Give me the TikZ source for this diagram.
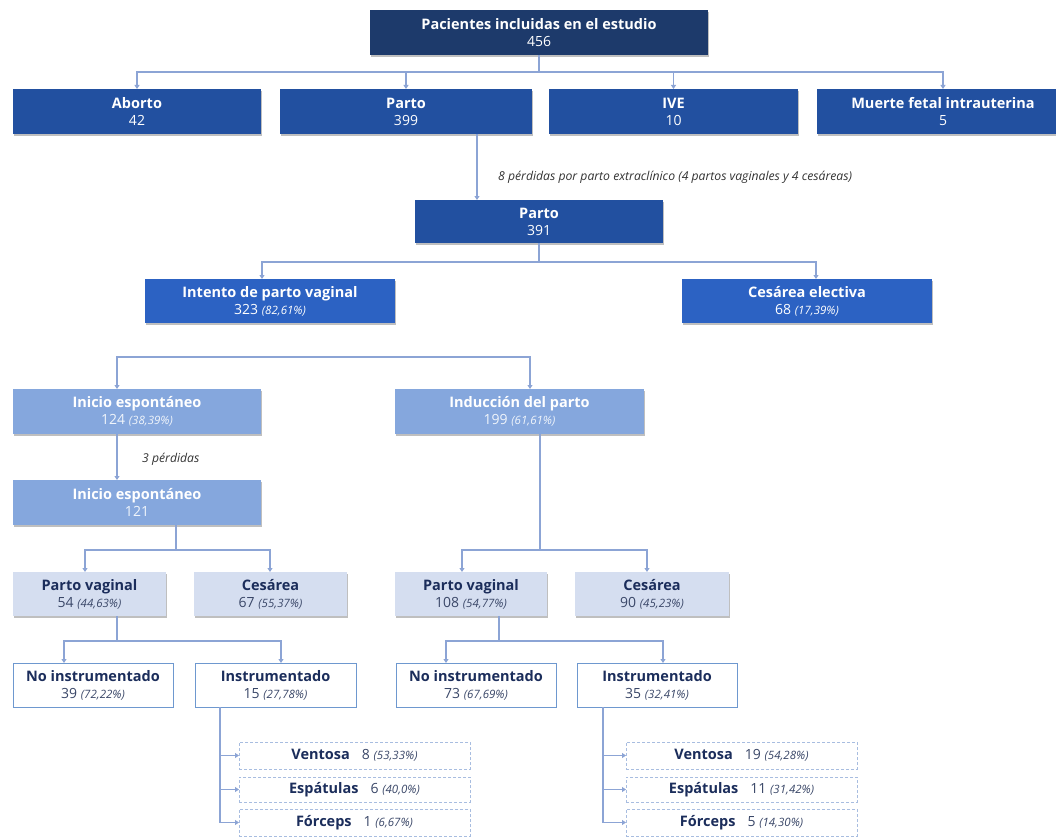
\documentclass[tikz,border=0pt]{standalone}
\usepackage{fontspec}
\setmainfont{Open Sans}
\usetikzlibrary{arrows.meta,calc,shadows}
\definecolor{c0}{HTML}{1D3A6B}
\definecolor{c1}{HTML}{2250A0}
\definecolor{c2}{HTML}{2C62C3}
\definecolor{c3}{HTML}{85A7DD}
\definecolor{c4}{HTML}{D5DEF0}
\definecolor{navy}{HTML}{1B2D5B}
\definecolor{slate}{HTML}{3A4768}
\definecolor{lnc}{HTML}{8CA4D5}
\definecolor{bdr}{HTML}{6E98CF}
\definecolor{dsh}{HTML}{A8BDE0}
\newcommand\nm[1]{{\fontsize{14}{17}\selectfont #1}}
\newcommand\pc[1]{{\fontsize{11.5}{14}\selectfont\itshape #1}}
\newcommand\mybox[7]{\node[#6, minimum width={#4pt-#2pt}, minimum height={#5pt-#3pt}] (#1) at ({(#2+#4)/2},{(#3+#5)/2}) {#7};}
\tikzset{
  bx/.style={rectangle, inner sep=0pt, outer sep=0pt, align=center, font=\fontsize{14.5}{17}\selectfont},
  sh/.style={drop shadow={shadow xshift=0.6pt, shadow yshift=-1.6pt, fill=black, opacity=0.25}},
  dz/.style={bx, sh, fill=c0, text=white},
  da/.style={bx, sh, fill=c1, text=white},
  db/.style={bx, sh, fill=c2, text=white},
  dc/.style={bx, sh, fill=c3, text=white},
  dd/.style={bx, sh, fill=c4, text=navy},
  de/.style={bx, fill=white, draw=bdr, line width=0.8pt, text=navy},
  df/.style={bx, fill=white, draw=dsh, dashed, dash pattern=on 3pt off 2pt, line width=0.7pt, text=navy},
  ln/.style={draw=lnc, line width=1.1pt},
  arr/.style={ln, -{Triangle[width=5pt,length=4pt]}},
  note/.style={font=\fontsize{12.2}{14}\selectfont\itshape, text=black!80, inner sep=0pt, anchor=west}
}
\begin{document}
\begin{tikzpicture}[x=1pt,y=-1pt]
\useasboundingbox (0,0) rectangle (1056,837);
\fill[white] (0,0) rectangle (1056,837);
\clip (0,0) rectangle (1056,837);

\mybox{top}{370}{10}{708}{55}{dz}{\textbf{Pacientes incluidas en el estudio}\\\nm{456}}
\mybox{aborto}{13}{89}{261}{134}{da}{\textbf{Aborto}\\\nm{42}}
\mybox{parto}{280}{89}{532}{134}{da}{\textbf{Parto}\\\nm{399}}
\mybox{ive}{549}{89}{798}{134}{da}{\textbf{IVE}\\\nm{10}}
\mybox{muerte}{817}{89}{1069}{134}{da}{\textbf{Muerte fetal intrauterina}\\\nm{5}}
\mybox{p391}{415}{200}{663}{243}{da}{\textbf{Parto}\\\nm{391}}
\mybox{intento}{145}{279}{395}{323}{db}{\textbf{Intento de parto vaginal}\\\nm{323} \pc{(82,61\%)}}
\mybox{cesel}{682}{279}{932}{323}{db}{\textbf{Cesárea electiva}\\\nm{68} \pc{(17,39\%)}}
\mybox{inicio}{13}{389}{261}{434}{dc}{\textbf{Inicio espontáneo}\\\color{white!88!c3}\nm{124} \pc{(38,39\%)}}
\mybox{induc}{395}{389}{644}{434}{dc}{\textbf{Inducción del parto}\\\color{white!88!c3}\nm{199} \pc{(61,61\%)}}
\mybox{inicio2}{13}{480}{261}{525}{dc}{\textbf{Inicio espontáneo}\\\color{white!88!c3}\nm{121}}
\mybox{pv1}{13}{572}{166}{616}{dd}{\textbf{Parto vaginal}\\\color{slate}\nm{54} \pc{(44,63\%)}}
\mybox{ces1}{194}{572}{347}{616}{dd}{\textbf{Cesárea}\\\color{slate}\nm{67} \pc{(55,37\%)}}
\mybox{pv2}{395}{572}{547}{616}{dd}{\textbf{Parto vaginal}\\\color{slate}\nm{108} \pc{(54,77\%)}}
\mybox{ces2}{575}{572}{729}{616}{dd}{\textbf{Cesárea}\\\color{slate}\nm{90} \pc{(45,23\%)}}
\mybox{ni1}{13}{663}{173}{707}{de}{\textbf{No instrumentado}\\\color{slate}\nm{39} \pc{(72,22\%)}}
\mybox{in1}{195}{663}{356}{707}{de}{\textbf{Instrumentado}\\\color{slate}\nm{15} \pc{(27,78\%)}}
\mybox{ni2}{396}{663}{556}{707}{de}{\textbf{No instrumentado}\\\color{slate}\nm{73} \pc{(67,69\%)}}
\mybox{in2}{577}{663}{737}{707}{de}{\textbf{Instrumentado}\\\color{slate}\nm{35} \pc{(32,41\%)}}
\mybox{v1}{239}{742}{470}{769}{df}{\textbf{Ventosa}\hspace{12pt}{\color{slate}\nm{8} \pc{(53,33\%)}}}
\mybox{e1}{239}{777}{470}{802}{df}{\textbf{Espátulas}\hspace{12pt}{\color{slate}\nm{6} \pc{(40,0\%)}}}
\mybox{f1}{239}{809}{470}{836}{df}{\textbf{Fórceps}\hspace{12pt}{\color{slate}\nm{1} \pc{(6,67\%)}}}
\mybox{v2}{626}{742}{857}{769}{df}{\textbf{Ventosa}\hspace{12pt}{\color{slate}\nm{19} \pc{(54,28\%)}}}
\mybox{e2}{626}{777}{857}{802}{df}{\textbf{Espátulas}\hspace{12pt}{\color{slate}\nm{11} \pc{(31,42\%)}}}
\mybox{f2}{626}{809}{857}{836}{df}{\textbf{Fórceps}\hspace{12pt}{\color{slate}\nm{5} \pc{(14,30\%)}}}

\node[note] (lab1) at (498,177) {8 pérdidas por parto extraclínico (4 partos vaginales y 4 cesáreas)};
\node[note] (lab2) at (142,459) {3 pérdidas};

% top level
\draw[ln] (top.south) -- ++(0,17) coordinate (h1);
\draw[arr] (h1) -| (aborto.north);
\draw[arr] (h1) -| (parto.north);
\draw[arr] (h1) -| (ive.north);
\draw[arr] (h1) -| (muerte.north);
% parto -> parto 391
\draw[arr] ($(parto.south)+(71,0)$) -- ($(p391.north)+(-62,0)$);
% parto 391 -> intento / cesarea electiva
\draw[ln] (p391.south) -- ++(0,19) coordinate (h2);
\draw[arr] (h2) -| ($(intento.north)+(-8,0)$);
\draw[arr] (h2) -| ($(cesel.north)+(9,0)$);
% inicio / induccion
\draw[ln, {Triangle[width=5pt,length=4pt]}-{Triangle[width=5pt,length=4pt]}] ($(inicio.north)+(-20,0)$) -- ++(0,-32) -| ($(induc.north)+(10.5,0)$);
\draw[arr] ($(inicio.south)+(-20,0)$) -- ($(inicio2.north)+(-20,0)$);
% inicio2 -> pv1 / ces1
\draw[ln] ($(inicio2.south)+(39,0)$) -- ++(0,25) coordinate (h4);
\draw[arr] (h4) -| ($(pv1.north)+(-4.5,0)$);
\draw[arr] (h4) -| ($(ces1.north)+(-0.5,0)$);
% induccion -> pv2 / ces2
\draw[ln] ($(induc.south)+(20.5,0)$) -- ++(0,116) coordinate (h5);
\draw[arr] (h5) -| ($(pv2.north)+(-9,0)$);
\draw[arr] (h5) -| ($(ces2.north)+(-5,0)$);
% pv1 -> ni1 / in1
\draw[ln] ($(pv1.south)+(27.5,0)$) -- ++(0,25) coordinate (h6);
\draw[arr] (h6) -| ($(ni1.north)+(-29,0)$);
\draw[arr] (h6) -| ($(in1.north)+(5.5,0)$);
% pv2 -> ni2 / in2
\draw[ln] ($(pv2.south)+(28,0)$) -- ++(0,25) coordinate (h7);
\draw[arr] (h7) -| ($(ni2.north)+(-30,0)$);
\draw[arr] (h7) -| ($(in2.north)+(6,0)$);
% instrumentado -> tipos
\draw[arr] ($(in1.south)+(-55.5,0)$) |- (v1.west);
\draw[arr] ($(in1.south)+(-55.5,0)$) |- (e1.west);
\draw[arr] ($(in1.south)+(-55.5,0)$) |- (f1.west);
\draw[arr] ($(in2.south)+(-54,0)$) |- (v2.west);
\draw[arr] ($(in2.south)+(-54,0)$) |- (e2.west);
\draw[arr] ($(in2.south)+(-54,0)$) |- (f2.west);
\end{tikzpicture}
\end{document}
